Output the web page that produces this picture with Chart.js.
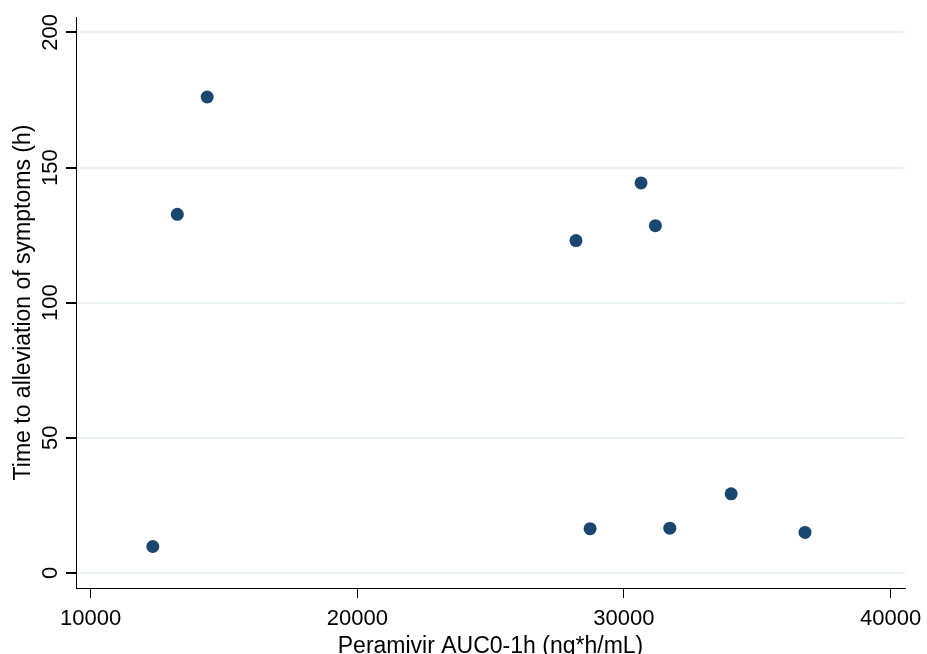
<!DOCTYPE html>
<html>
<head>
<meta charset="utf-8">
<script src="https://cdn.jsdelivr.net/npm/chart.js@4/dist/chart.umd.min.js"></script>
<style>
    html, body { margin: 0; padding: 0; background: #fff; }
    #wrap { width: 927px; height: 654px; position: relative; }
</style>
</head>
<body>
<div id="wrap"><canvas id="scatter"></canvas></div>
<script>
// AUC values (ng*h/mL) and matching symptom times (h)
var aucValues = [12330, 13250, 14370, 28200, 28730, 30640, 31180, 31720, 34020, 36790];
var hoursValues = [9.8, 132.7, 176.1, 123.0, 16.4, 144.3, 128.5, 16.6, 29.3, 15.0];
var xTickValues = [10000, 20000, 30000, 40000];
var yTickValues = [0, 50, 100, 150, 200];

var xTitle = 'Peramivir AUC0-1h (ng*h/mL)';
var yTitle = 'Time to alleviation of symptoms (h)';

var fontFamily = '"Liberation Sans", Arial, sans-serif';

var points = aucValues.map(function (x, i) {
    return { x: x, y: hoursValues[i] };
});

function keepTicks(values) {
    return function (scale) {
        scale.ticks = values.map(function (v) { return { value: v }; });
    };
}

function plainNumber(value) {
    return String(value);
}

new Chart(document.getElementById('scatter').getContext('2d'), {
    type: 'scatter',
    data: {
        datasets: [{
            data: points,
            backgroundColor: '#1a476f',
            borderWidth: 0,
            pointRadius: 6.5,
            pointHoverRadius: 6.5
        }]
    },
    options: {
        responsive: true,
        maintainAspectRatio: false,
        animation: false,
        layout: { padding: { top: 17, right: 22, left: 0, bottom: 0 } },
        plugins: { legend: { display: false }, tooltip: { enabled: false } },
        scales: {
            x: {
                type: 'linear',
                min: 9450,
                max: 40540,
                afterBuildTicks: keepTicks(xTickValues),
                afterFit: function (scale) {
                    scale.height = 66;
                    // the last label may hang past the axis end, as in the original
                    scale.paddingLeft = 0;
                    scale.paddingRight = 0;
                },
                border: { color: '#000', width: 1 },
                grid: { drawOnChartArea: false, tickColor: '#000', tickLength: 10 },
                ticks: { color: '#000', font: { family: fontFamily, size: 22 }, padding: 8, maxRotation: 0, callback: plainNumber },
                title: { display: true, text: xTitle, color: '#000', font: { family: fontFamily, size: 23 }, padding: { top: 0, bottom: -6 } }
            },
            y: {
                type: 'linear',
                min: -5.55,
                max: 205.7,
                afterBuildTicks: keepTicks(yTickValues),
                afterFit: function (scale) { scale.width = 76; },
                border: { color: '#000', width: 1 },
                grid: { color: '#eaf2f3', lineWidth: 2, tickColor: '#000', tickLength: 10 },
                ticks: { color: '#000', font: { family: fontFamily, size: 22 }, minRotation: 90, maxRotation: 90, crossAlign: 'center', padding: -3, callback: plainNumber },
                title: { display: true, text: yTitle, color: '#000', font: { family: fontFamily, size: 23 }, padding: { top: 10, bottom: 0 } }
            }
        }
    }
});
</script>
</body>
</html>
